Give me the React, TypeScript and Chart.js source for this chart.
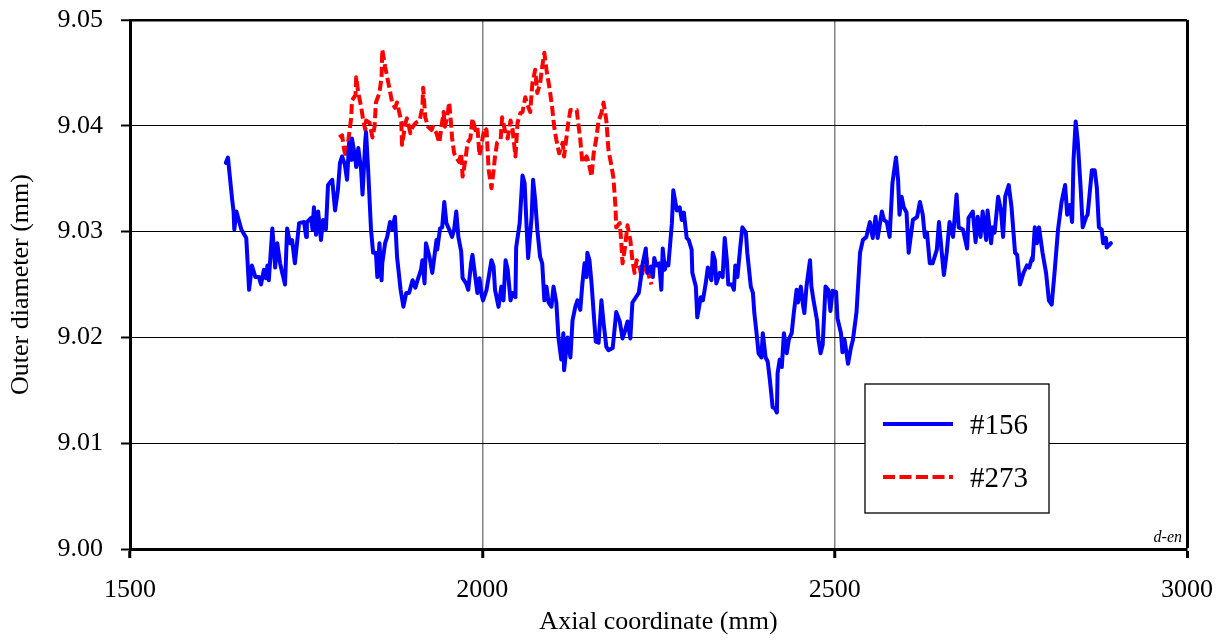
import React, { useEffect, useRef } from "react";
import { Chart, registerables } from "chart.js";

Chart.register(...registerables);

// ---- axis ranges / ticks ----
const X_MIN = 1500;
const X_MAX = 3000;
const X_STEP = 500;
const Y_MIN = 9.0;
const Y_MAX = 9.05;
const Y_STEP = 0.01;

const X_TITLE = "Axial coordinate (mm)";
const Y_TITLE = "Outer diameter (mm)";
const SERIES_LABELS = ["#156", "#273"];
const NOTE = "d-en";

// ---- series #156 : [axial coordinate (mm), outer diameter (mm)] ----
const series156: [number, number][] = [
  [1636, 9.0365], [1639, 9.037], [1645, 9.033], [1647, 9.0319], [1648, 9.0302], [1651, 9.0319], [1658, 9.0302], [1665, 9.0294], [1669, 9.0245], [1673, 9.0268],
  [1678, 9.0257], [1683, 9.0257], [1686, 9.025], [1690, 9.0264], [1693, 9.0256], [1695, 9.0268], [1697, 9.0254], [1702, 9.0303], [1706, 9.0266], [1709, 9.0289],
  [1713, 9.027], [1716, 9.0261], [1720, 9.025], [1723, 9.0303], [1727, 9.0289], [1730, 9.0292], [1734, 9.027], [1740, 9.0308], [1747, 9.0309], [1750, 9.0295],
  [1751, 9.0309], [1757, 9.0313], [1759, 9.0302], [1761, 9.0323], [1764, 9.0297], [1767, 9.0319], [1771, 9.0292], [1774, 9.0311], [1778, 9.0302], [1781, 9.0344],
  [1787, 9.0349], [1791, 9.032], [1795, 9.0339], [1798, 9.0365], [1801, 9.0371], [1805, 9.0363], [1808, 9.0349], [1811, 9.0384], [1814, 9.0368], [1815, 9.0388],
  [1820, 9.0368], [1821, 9.0361], [1824, 9.0379], [1828, 9.0358], [1830, 9.0335], [1834, 9.0387], [1835, 9.0394], [1838, 9.0358], [1842, 9.0302], [1845, 9.028],
  [1849, 9.028], [1851, 9.0257], [1854, 9.0289], [1857, 9.0254], [1858, 9.027], [1862, 9.0289], [1865, 9.0295], [1869, 9.0309], [1872, 9.0302], [1876, 9.0314],
  [1879, 9.0276], [1884, 9.0245], [1888, 9.0229], [1892, 9.0242], [1896, 9.0242], [1901, 9.0254], [1905, 9.0247], [1908, 9.0254], [1913, 9.0264], [1915, 9.0273],
  [1918, 9.0251], [1920, 9.0289], [1925, 9.0276], [1929, 9.0261], [1935, 9.0292], [1936, 9.0283], [1940, 9.0303], [1943, 9.0304], [1946, 9.0328], [1949, 9.0308],
  [1953, 9.0302], [1957, 9.0295], [1960, 9.0302], [1963, 9.0319], [1966, 9.0295], [1970, 9.0281], [1972, 9.0256], [1977, 9.0251], [1980, 9.0245], [1984, 9.027],
  [1986, 9.0278], [1990, 9.0257], [1993, 9.0242], [1996, 9.0256], [1999, 9.024], [2001, 9.0235], [2006, 9.0245], [2010, 9.0261], [2013, 9.0273], [2016, 9.0267],
  [2018, 9.0245], [2023, 9.0229], [2027, 9.0248], [2030, 9.0235], [2033, 9.0273], [2036, 9.0264], [2040, 9.0235], [2043, 9.0242], [2047, 9.0238], [2048, 9.0285],
  [2053, 9.0308], [2057, 9.0353], [2060, 9.0346], [2063, 9.0302], [2065, 9.0275], [2070, 9.0314], [2072, 9.0349], [2075, 9.033], [2078, 9.0302], [2082, 9.0276],
  [2085, 9.027], [2088, 9.0235], [2091, 9.0248], [2094, 9.0233], [2098, 9.0229], [2101, 9.0248], [2105, 9.0233], [2108, 9.02], [2112, 9.0179], [2115, 9.0204],
  [2116, 9.0169], [2121, 9.02], [2125, 9.0181], [2128, 9.0216], [2132, 9.0229], [2135, 9.0235], [2139, 9.0226], [2142, 9.0251], [2145, 9.027], [2148, 9.0257],
  [2149, 9.028], [2152, 9.0273], [2155, 9.0251], [2158, 9.0223], [2161, 9.0196], [2165, 9.0195], [2169, 9.0235], [2172, 9.0214], [2176, 9.0191], [2179, 9.0188],
  [2185, 9.019], [2188, 9.021], [2190, 9.0224], [2195, 9.0215], [2199, 9.0199], [2202, 9.0205], [2206, 9.0215], [2210, 9.0199], [2213, 9.0233], [2217, 9.0237],
  [2222, 9.0242], [2226, 9.0261], [2227, 9.0268], [2232, 9.0284], [2234, 9.0261], [2239, 9.0267], [2242, 9.0257], [2244, 9.0275], [2247, 9.0268], [2251, 9.027],
  [2254, 9.0245], [2256, 9.0284], [2259, 9.0264], [2261, 9.027], [2264, 9.0268], [2269, 9.0308], [2271, 9.0339], [2276, 9.032], [2280, 9.0323], [2283, 9.0311],
  [2286, 9.0318], [2290, 9.0294], [2293, 9.0292], [2297, 9.0283], [2298, 9.0261], [2303, 9.0248], [2305, 9.0219], [2310, 9.0238], [2313, 9.0235], [2317, 9.0251],
  [2320, 9.0266], [2322, 9.0261], [2325, 9.0254], [2327, 9.028], [2330, 9.0273], [2332, 9.0251], [2337, 9.0261], [2341, 9.0257], [2344, 9.0294], [2347, 9.0273],
  [2349, 9.025], [2354, 9.025], [2357, 9.0245], [2359, 9.0268], [2362, 9.0257], [2366, 9.0285], [2369, 9.0304], [2374, 9.0299], [2376, 9.028], [2381, 9.0248],
  [2384, 9.0242], [2386, 9.0223], [2389, 9.0205], [2392, 9.0185], [2396, 9.0181], [2398, 9.0204], [2402, 9.0181], [2405, 9.0177], [2408, 9.016], [2412, 9.0134],
  [2415, 9.0133], [2418, 9.0129], [2419, 9.0166], [2422, 9.0179], [2425, 9.0172], [2428, 9.0204], [2432, 9.0185], [2435, 9.0198], [2439, 9.0204], [2442, 9.0223],
  [2446, 9.0245], [2448, 9.0233], [2452, 9.0248], [2455, 9.0231], [2457, 9.0223], [2460, 9.0248], [2465, 9.0273], [2467, 9.0248], [2470, 9.0235], [2475, 9.0216],
  [2477, 9.0198], [2480, 9.0185], [2483, 9.0193], [2487, 9.0248], [2491, 9.0245], [2494, 9.0225], [2497, 9.0244], [2502, 9.0243], [2504, 9.0218], [2509, 9.0204],
  [2511, 9.0186], [2514, 9.0198], [2519, 9.0175], [2523, 9.019], [2526, 9.0198], [2531, 9.0224], [2536, 9.028], [2540, 9.0292], [2545, 9.0295], [2550, 9.0309],
  [2554, 9.0294], [2558, 9.0314], [2561, 9.0294], [2567, 9.0319], [2570, 9.0311], [2574, 9.0309], [2578, 9.0295], [2582, 9.0346], [2587, 9.037], [2590, 9.0349],
  [2592, 9.0316], [2595, 9.0333], [2598, 9.0323], [2602, 9.0318], [2605, 9.028], [2611, 9.0311], [2617, 9.0314], [2621, 9.0328], [2625, 9.0316], [2628, 9.0295],
  [2631, 9.0299], [2635, 9.027], [2639, 9.027], [2645, 9.0283], [2648, 9.0309], [2652, 9.028], [2655, 9.0259], [2659, 9.028], [2663, 9.0309], [2668, 9.0295],
  [2673, 9.0335], [2676, 9.0304], [2682, 9.0302], [2688, 9.0284], [2690, 9.0313], [2696, 9.0319], [2700, 9.029], [2703, 9.0314], [2707, 9.0295], [2710, 9.0319],
  [2715, 9.0292], [2717, 9.032], [2722, 9.0289], [2724, 9.0304], [2727, 9.0299], [2732, 9.0333], [2736, 9.032], [2739, 9.0295], [2742, 9.0333], [2747, 9.0344],
  [2751, 9.0323], [2756, 9.028], [2759, 9.0278], [2763, 9.025], [2768, 9.0261], [2773, 9.0268], [2776, 9.0266], [2780, 9.0275], [2781, 9.0273], [2784, 9.0304],
  [2787, 9.0289], [2790, 9.0304], [2795, 9.028], [2800, 9.0261], [2804, 9.0235], [2808, 9.0231], [2812, 9.0261], [2817, 9.0302], [2822, 9.0328], [2827, 9.0344],
  [2830, 9.0316], [2834, 9.0325], [2837, 9.0309], [2839, 9.0368], [2842, 9.0404], [2845, 9.0385], [2849, 9.0342], [2852, 9.0304], [2857, 9.0314], [2859, 9.0316],
  [2865, 9.0358], [2869, 9.0358], [2872, 9.0342], [2875, 9.0304], [2879, 9.0302], [2881, 9.0289], [2885, 9.0294], [2886, 9.0285], [2892, 9.0289],
];

// ---- series #273 ----
const series273: [number, number][] = [
  [1797, 9.0389], [1801, 9.0391], [1804, 9.0377], [1807, 9.037], [1810, 9.0387], [1814, 9.0408], [1815, 9.0424], [1820, 9.0429], [1821, 9.0446], [1824, 9.0431],
  [1828, 9.0418], [1831, 9.0405], [1834, 9.0396], [1835, 9.0405], [1840, 9.0403], [1844, 9.0389], [1847, 9.0399], [1849, 9.0422], [1854, 9.0431], [1857, 9.0446],
  [1858, 9.0472], [1862, 9.0456], [1865, 9.0446], [1868, 9.0436], [1872, 9.0422], [1876, 9.0417], [1879, 9.0422], [1882, 9.0413], [1885, 9.0404], [1886, 9.0382],
  [1891, 9.0403], [1893, 9.0407], [1898, 9.0393], [1901, 9.0399], [1906, 9.0403], [1911, 9.0405], [1915, 9.0418], [1916, 9.0436], [1919, 9.0408], [1923, 9.0399],
  [1928, 9.0396], [1930, 9.0399], [1935, 9.0393], [1939, 9.0384], [1942, 9.0399], [1945, 9.0413], [1947, 9.0399], [1950, 9.0408], [1953, 9.0422], [1956, 9.0399],
  [1957, 9.0389], [1960, 9.0374], [1963, 9.037], [1967, 9.0366], [1970, 9.0374], [1972, 9.0352], [1976, 9.0368], [1979, 9.0384], [1983, 9.0388], [1986, 9.0407],
  [1990, 9.0396], [1993, 9.0399], [1996, 9.0372], [2000, 9.0387], [2003, 9.0398], [2006, 9.0396], [2009, 9.0358], [2013, 9.0341], [2016, 9.0358], [2018, 9.0371],
  [2021, 9.0384], [2026, 9.0387], [2028, 9.0408], [2033, 9.0393], [2036, 9.0388], [2040, 9.0405], [2043, 9.0396], [2047, 9.0371], [2050, 9.0403], [2054, 9.0412],
  [2057, 9.0413], [2061, 9.0427], [2064, 9.042], [2068, 9.0413], [2071, 9.044], [2075, 9.0453], [2078, 9.0431], [2082, 9.044], [2085, 9.0456], [2088, 9.0469],
  [2091, 9.0453], [2095, 9.0437], [2099, 9.0418], [2102, 9.0399], [2105, 9.0387], [2109, 9.0374], [2114, 9.0384], [2116, 9.0371], [2119, 9.0387], [2122, 9.0403],
  [2125, 9.0415], [2129, 9.0415], [2134, 9.0415], [2136, 9.0403], [2139, 9.0387], [2142, 9.0365], [2148, 9.0371], [2151, 9.0365], [2155, 9.0352], [2158, 9.0374],
  [2162, 9.0389], [2165, 9.0405], [2169, 9.0412], [2172, 9.0422], [2176, 9.0405], [2179, 9.0377], [2183, 9.0363], [2186, 9.0351], [2189, 9.0323], [2190, 9.0304],
  [2195, 9.0308], [2197, 9.0292], [2199, 9.027], [2202, 9.0283], [2206, 9.0306], [2210, 9.0292], [2213, 9.0273], [2216, 9.0261], [2219, 9.0273], [2223, 9.0267],
  [2226, 9.0257], [2229, 9.0267], [2233, 9.0275], [2236, 9.0259], [2240, 9.025],
];

const SERIES_COLORS = ["#0000ff", "#ff0000"];
const FONT_FAMILY = "'Liberation Serif', 'Times New Roman', Times, serif";

const near = (a: number, b: number) => Math.abs(a - b) < 1e-6;

const resetPadding = (s: any) => {
  s.paddingTop = 0;
  s.paddingBottom = 0;
  s.paddingLeft = 0;
  s.paddingRight = 0;
};

const overlayPlugin = {
  id: "overlayLegend",
  afterDatasetsDraw(chart: any) {
    const ctx = chart.ctx as CanvasRenderingContext2D;
    ctx.save();
    // legend box
    const bx = 865;
    const by = 384;
    const bw = 184;
    const bh = 129;
    ctx.fillStyle = "#ffffff";
    ctx.fillRect(bx, by, bw, bh);
    ctx.strokeStyle = "#000000";
    ctx.lineWidth = 1.3;
    ctx.strokeRect(bx, by, bw, bh);

    const rows = [424, 477];
    SERIES_LABELS.forEach((label, i) => {
      const y = rows[i];
      ctx.beginPath();
      ctx.strokeStyle = SERIES_COLORS[i];
      ctx.lineWidth = 4;
      ctx.setLineDash(i === 1 ? [12, 4.5] : []);
      ctx.moveTo(883, y);
      ctx.lineTo(953, y);
      ctx.stroke();
      ctx.setLineDash([]);
      ctx.fillStyle = "#000000";
      ctx.font = `29px ${FONT_FAMILY}`;
      ctx.textAlign = "left";
      ctx.textBaseline = "middle";
      ctx.fillText(label, 970, y + 2);
    });

    // small note at bottom-right of plot area
    const area = chart.chartArea;
    ctx.font = `italic 16px ${FONT_FAMILY}`;
    ctx.textAlign = "right";
    ctx.textBaseline = "alphabetic";
    ctx.fillStyle = "#000000";
    ctx.fillText(NOTE, area.right - 5, area.bottom - 7);
    ctx.restore();
  },
};

export default function App() {
  const canvasRef = useRef<HTMLCanvasElement | null>(null);

  useEffect(() => {
    if (!canvasRef.current) return;
    const tickFont = { family: FONT_FAMILY, size: 26 };
    const chart = new Chart(canvasRef.current, {
      type: "line",
      data: {
        datasets: [
          {
            label: SERIES_LABELS[0],
            data: series156.map(([x, y]) => ({ x, y })),
            borderColor: SERIES_COLORS[0],
            backgroundColor: SERIES_COLORS[0],
            borderWidth: 4,
            borderJoinStyle: "round",
            borderCapStyle: "round",
            pointRadius: 0,
            tension: 0,
            fill: false,
          },
          {
            label: SERIES_LABELS[1],
            data: series273.map(([x, y]) => ({ x, y })),
            borderColor: SERIES_COLORS[1],
            backgroundColor: SERIES_COLORS[1],
            borderWidth: 4,
            borderJoinStyle: "round",
            borderDash: [10, 4],
            pointRadius: 0,
            tension: 0,
            fill: false,
          },
        ],
      },
      options: {
        responsive: false,
        animation: false,
        events: [],
        layout: { padding: { top: 20, right: 38, left: 0, bottom: 0 } },
        plugins: {
          legend: { display: false },
          tooltip: { enabled: false },
          title: { display: false },
        },
        scales: {
          x: {
            type: "linear",
            min: X_MIN,
            max: X_MAX,
            afterFit: (s: any) => {
              s.height = 91;
              resetPadding(s);
            },
            ticks: {
              stepSize: X_STEP,
              color: "#000",
              font: tickFont,
              padding: 17,
              maxRotation: 0,
              callback: (v: any) => String(v),
            },
            grid: {
              drawOnChartArea: true,
              color: (c: any) => {
                const v = c.tick ? c.tick.value : 0;
                if (near(v, X_MAX)) return "#000000";
                if (near(v, X_MIN)) return "rgba(0,0,0,0)";
                return "#808080";
              },
              lineWidth: (c: any) => {
                const v = c.tick ? c.tick.value : 0;
                return near(v, X_MAX) ? 3 : 1.5;
              },
              tickColor: "#000000",
              tickWidth: 3,
              tickLength: 9,
            },
            border: { display: true, color: "#000000", width: 3 },
            title: {
              display: true,
              text: X_TITLE,
              color: "#000",
              font: tickFont,
              padding: { top: 0, bottom: 2 },
            },
          },
          y: {
            type: "linear",
            min: Y_MIN,
            max: Y_MAX,
            afterFit: (s: any) => {
              s.width = 130;
              resetPadding(s);
            },
            ticks: {
              stepSize: Y_STEP,
              color: "#000",
              font: tickFont,
              padding: 18,
              callback: (v: any) => Number(v).toFixed(2),
            },
            grid: {
              drawOnChartArea: true,
              color: (c: any) => {
                const v = c.tick ? c.tick.value : 0;
                if (near(v, Y_MIN)) return "rgba(0,0,0,0)";
                return "#000000";
              },
              lineWidth: (c: any) => {
                const v = c.tick ? c.tick.value : 0;
                return near(v, Y_MAX) ? 2.5 : 1;
              },
              tickColor: "#000000",
              tickWidth: 2,
              tickLength: 9,
            },
            border: { display: true, color: "#000000", width: 3 },
            title: {
              display: true,
              text: Y_TITLE,
              color: "#000",
              font: tickFont,
              padding: { top: 6, bottom: 0 },
            },
          },
        },
      } as any,
      plugins: [overlayPlugin],
    });
    return () => chart.destroy();
  }, []);

  return (
    <div style={{ position: "absolute", left: 0, top: 0, width: 1225, height: 640, background: "#fff" }}>
      <canvas ref={canvasRef} width={1225} height={640} style={{ display: "block", width: 1225, height: 640 }} />
    </div>
  );
}
